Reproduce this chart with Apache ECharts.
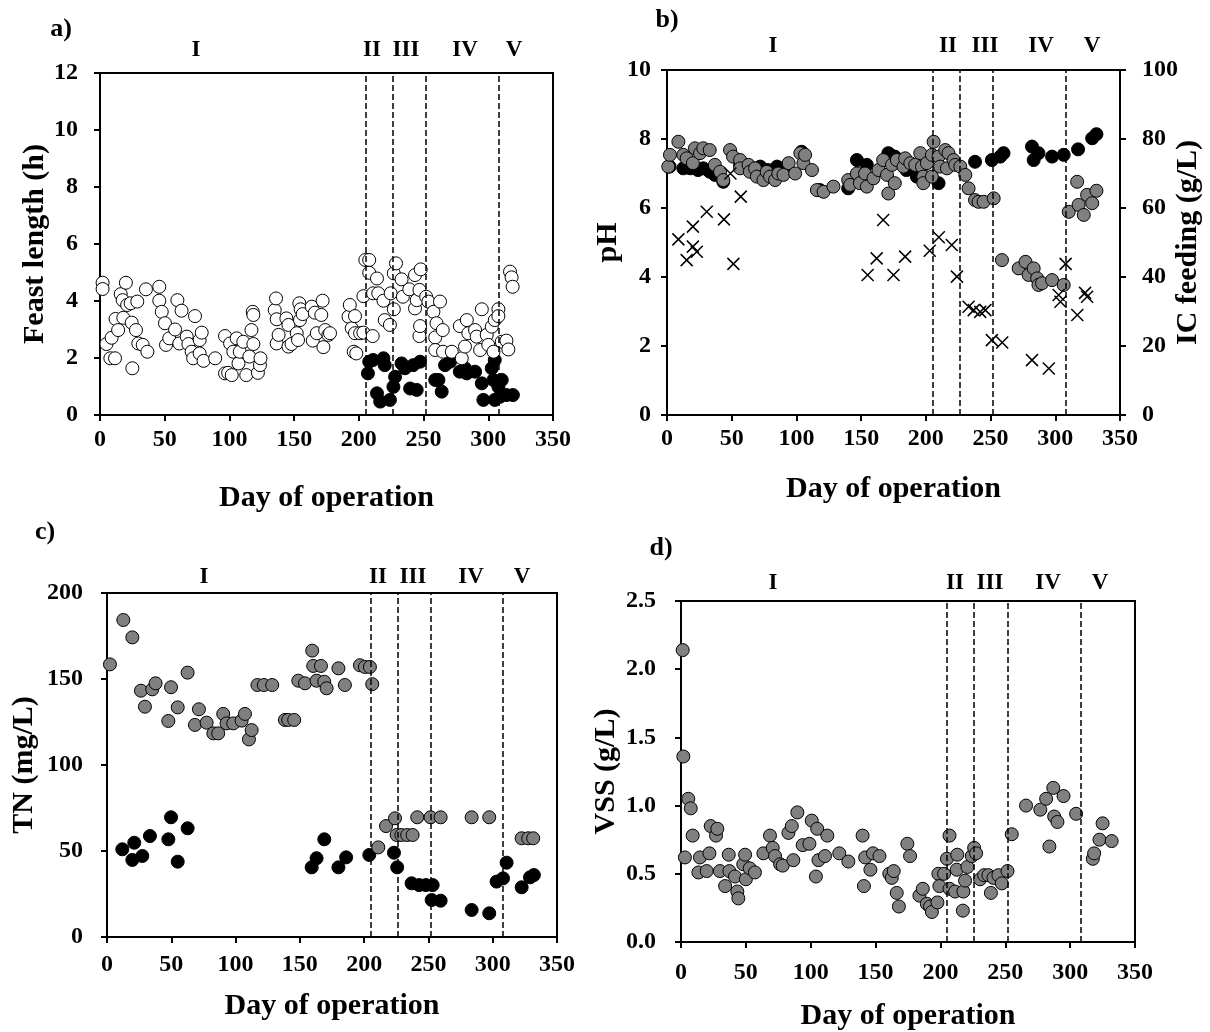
<!DOCTYPE html>
<html>
<head>
<meta charset="utf-8">
<script src="https://cdn.jsdelivr.net/npm/echarts@6/dist/echarts.min.js"></script>
<style>
  html, body { margin: 0; padding: 0; background: #fff; }
  #chart { width: 1210px; height: 1032px; }
</style>
</head>
<body>
<div id="chart"></div>
<script>
// phase boundaries (day of operation)
const phaseDays = [205, 226, 252, 308];
const phaseNames = ["I", "II", "III", "IV", "V"];

// a) feast length, open circles
const aFeastDay = [2, 2, 5, 8, 9, 11.6, 12, 14, 16, 17.5, 18, 20, 21, 23.7, 24.5, 25, 27.8, 28.8, 29.6, 33, 35.5, 36.6,
  45.8, 45.8, 47.7, 50.2, 51, 53.5, 58, 59.8, 61.3, 63, 67, 68.3, 70.8, 72, 73.4, 77, 77, 78.6, 80, 89,
  96.6, 96.6, 99, 100.5, 101.8, 103, 105.6, 107, 108, 110.7, 113, 115.4, 117, 118, 118.5, 118.5, 122, 123.6, 124,
  135, 136, 136.5, 136.5, 138, 144, 145.6, 145.6, 148, 152, 153, 154, 154.5, 155, 156.6, 163.6, 164.4, 166, 167.5,
  171, 172, 172.6, 174, 176.5, 177.7, 192, 193, 194.5, 196, 197, 197, 198, 201, 203.5, 203.5, 205, 208, 208,
  210.7, 211, 214, 215, 219, 220, 224, 224.6, 227, 227, 228.7, 233, 234, 239, 243.4, 243.4, 244.7, 246.8, 246.8,
  247.3, 247.8, 252, 253.7, 257.6, 259, 259, 260, 262.7, 264.8, 265, 271.8, 278, 279.5, 282, 283.4, 284.6,
  289.8, 291, 293.7, 295, 298.8, 300, 302.7, 304, 305, 307.8, 307.8, 310.4, 314, 315.5, 316.8, 318, 318.8];
const aFeastHours = [4.64, 4.42, 2.49, 1.99, 2.71, 1.99, 3.37, 2.98, 4.24, 4.03, 3.41, 4.64, 3.86, 3.92, 3.24, 1.64, 2.98, 3.98, 2.51, 2.46, 4.41, 2.22,
  4.5, 4.01, 3.62, 3.22, 2.46, 2.69, 3.0, 4.03, 2.51, 3.66, 2.75, 2.49, 2.22, 1.99, 3.47, 2.63, 2.16, 2.89, 1.9, 1.99,
  2.77, 1.46, 1.48, 2.51, 1.4, 2.22, 2.69, 1.81, 2.22, 2.57, 1.4, 2.05, 2.98, 3.62, 3.51, 2.49, 1.48, 1.75, 1.99,
  3.68, 4.09, 3.36, 2.51, 2.81, 3.39, 3.16, 2.4, 2.49, 2.87, 2.63, 3.92, 3.33, 3.71, 3.54, 3.8, 2.61, 3.59, 2.87,
  3.51, 4.01, 2.38, 2.98, 2.81, 2.87, 3.45, 3.86, 3.04, 2.22, 3.47, 2.87, 2.16, 2.87, 2.89, 4.17, 5.44, 5.44, 4.99,
  2.77, 4.27, 4.79, 4.27, 4.01, 3.33, 3.16, 4.27, 3.71, 4.97, 5.32, 4.76, 4.15, 4.41, 3.74, 4.91, 4.03, 4.39, 2.77,
  3.12, 5.11, 4.15, 3.98, 3.62, 2.72, 2.28, 3.22, 3.98, 2.98, 2.22, 2.22, 3.12, 1.99, 2.4, 3.33, 2.87,
  2.98, 2.75, 2.28, 3.71, 2.81, 2.46, 3.1, 2.22, 3.33, 3.71, 3.47, 2.57, 2.61, 2.3, 5.03, 4.83, 4.5];

// a) black circles
const aBlackDay = [207, 208, 211, 214, 216.5, 219, 220, 224, 226.7, 228, 233, 235.7, 239.6, 242, 244.7, 247.3,
  259, 261.5, 264, 266.6, 270.5, 278, 282, 283.4, 289.8, 295, 296.2, 302.7, 304, 305, 305, 307.8, 309, 310.4, 314, 319];
const aBlackHours = [1.46, 1.87, 1.93, 0.76, 0.47, 1.99, 1.75, 0.53, 0.99, 1.34, 1.81, 1.64, 0.93, 1.75, 0.88, 1.87,
  1.23, 1.23, 0.82, 1.75, 1.87, 1.52, 1.64, 1.46, 1.52, 1.11, 0.53, 1.64, 1.23, 1.93, 0.53, 0.99, 0.64, 1.23, 0.7, 0.7];

// b) pH, black circles
const bBlackDay = [2, 12.6, 18, 24, 28, 33, 37, 43.5, 56.5, 65, 72, 78, 85, 92, 104, 118, 140, 146.7, 154.4, 171, 172.5,
  176, 185, 193, 209.8, 238, 251, 257.5, 260, 282, 283.3, 287, 297.5, 306.5, 317.6, 328.5, 331.8];
const bBlackPH = [7.2, 7.15, 7.15, 7.1, 7.15, 7.05, 6.96, 6.76, 7.25, 7.15, 7.2, 7.1, 7.2, 7.2, 7.63, 6.52, 6.57, 7.39, 7.25, 7.59, 7.54,
  7.49, 7.1, 6.91, 6.72, 7.34, 7.39, 7.49, 7.59, 7.78, 7.39, 7.59, 7.49, 7.54, 7.7, 8.02, 8.14];

// b) pH, grey circles
const bGreyDay = [1, 2.3, 8.8, 12.6, 15.2, 20, 21.6, 25.5, 28, 33, 37, 41, 43.5, 48.7, 51, 56.5, 56.5, 63, 64, 68, 69.4,
  74.5, 77, 79.6, 83.5, 86, 90, 94, 99, 103, 105.4, 106.7, 112, 115.8, 121, 128.6, 140, 141.5, 146.7, 149, 153, 154.4,
  159.5, 163.4, 167, 170, 171, 173.8, 176, 177.6, 182.7, 184, 188, 191.8, 195.7, 197, 198, 198, 200.8, 204.7, 204.7,
  206, 209.8, 211, 215, 216.3, 217.5, 221.4, 222.7, 226.6, 230.5, 233, 238, 240.7, 244.6, 252.4, 258.8, 271.7, 277,
  279.4, 283.3, 286, 287, 289.8, 297.5, 306.5, 310.4, 316.9, 318, 322, 324.6, 328.5, 331.8];
const bGreyPH = [7.2, 7.54, 7.92, 7.54, 7.44, 7.3, 7.73, 7.59, 7.73, 7.68, 7.25, 7.05, 6.81, 7.68, 7.49, 7.39, 7.15, 7.25, 7.05, 7.15, 6.91,
  6.81, 7.05, 6.91, 6.81, 7.0, 6.96, 7.3, 7.0, 7.59, 7.3, 7.54, 7.1, 6.52, 6.47, 6.62, 6.81, 6.67, 7.0, 6.72, 7.0, 6.62,
  6.86, 7.1, 7.39, 6.96, 6.42, 7.25, 6.72, 7.39, 7.2, 7.44, 7.3, 7.25, 7.59, 7.2, 6.91, 6.72, 7.3, 7.54, 6.91,
  7.92, 7.49, 7.2, 7.68, 7.15, 7.59, 7.39, 7.25, 7.2, 6.96, 6.57, 6.23, 6.18, 6.18, 6.28, 4.49, 4.25, 4.44,
  4.06, 4.25, 3.96, 3.77, 3.82, 3.91, 3.77, 5.89, 6.76, 6.09, 5.8, 6.38, 6.14, 6.5];

// b) IC feeding, crosses
const bICDay = [8.8, 15.2, 20, 20, 23, 30.7, 44, 49, 51.3, 57, 155, 162, 167, 175, 184, 203, 210, 220, 224,
  233, 237, 242, 246, 251, 259, 282, 295, 302.6, 304, 308, 317, 323, 324.6];
const bICFeed = [50.9, 44.9, 54.6, 48.8, 47.3, 58.9, 56.7, 70, 43.8, 63.3, 40.6, 45.4, 56.5, 40.6, 45.9, 47.6, 51.5, 49.3, 40.1,
  31.4, 30.4, 29.9, 30.4, 21.7, 21, 15.9, 13.5, 34.8, 32.8, 43.8, 29, 35.4, 34.3];

// c) TN, grey circles
const cGreyDay = [2.3, 12.7, 19.7, 26.4, 29.5, 35.2, 37.8, 47.7, 49.8, 55, 62.7, 68.4, 71.5, 77.5, 82.7, 86.5, 90.4, 93,
  98.2, 104.7, 107.3, 110.4, 112.5, 117, 122, 128.5, 138.4, 141, 145.6, 148.8, 154, 159.6, 160.4, 163, 166.4, 169,
  170.8, 180, 185, 196.7, 200.6, 204.5, 206.3, 211, 217, 224, 225.3, 229, 233.5, 237.7, 241.3, 251.7, 259.5,
  283.6, 297.3, 322.5, 327.6, 331.5];
const cGreyTN = [158.5, 184.3, 174.2, 143.2, 133.9, 144, 147.5, 125.6, 145.2, 133.5, 153.7, 123.3, 132.4, 124.6, 118.4, 118.4, 129.7, 124.2,
  124.2, 125.8, 129.7, 114.9, 120.3, 146.5, 146.5, 146.5, 126.2, 126.2, 126.2, 149, 147.5, 166.5, 157.6, 149, 157.6, 148.4,
  144.6, 156.2, 146.5, 158, 157, 157, 147, 52.1, 64.5, 69, 59.3, 59.3, 59.3, 59.3, 69.6, 69.6, 69.6,
  69.6, 69.6, 57.4, 57.4, 57.4];

// c) TN, black circles
const cBlackDay = [11.9, 19.7, 21.2, 27.5, 33.4, 47.7, 49.8, 55, 62.7, 159.2, 163, 169, 180, 186, 204, 223.2, 225.7,
  236.9, 242.8, 248, 253.3, 252.5, 259.5, 283.6, 297.3, 303, 308, 310.8, 322.5, 329, 332];
const cBlackTN = [51, 44.8, 54.8, 47.1, 58.7, 56.8, 69.6, 43.8, 63.2, 40.5, 45.8, 56.8, 40.5, 46.3, 47.7, 49, 40.5,
  31.2, 30.2, 30.2, 30.2, 21.5, 21.1, 15.7, 13.8, 32.2, 34.1, 43.2, 28.9, 34.7, 36];

// d) VSS, grey circles
const dDay = [1.3, 1.8, 3, 5.6, 7.5, 9, 13.4, 14.6, 19.8, 21.9, 22.9, 27, 28, 30, 34, 36.8, 37.3, 41.6, 43.4, 44.2, 48,
  49.4, 50, 53, 57, 63.5, 68.6, 70.7, 72.5, 76.4, 78.4, 82.8, 85.4, 86.6, 89.7, 93.8, 99, 100.8, 104, 105, 106, 111,
  112.8, 122, 129, 140, 141, 142, 146, 148, 153, 160.6, 162.5, 164, 166.3, 168, 174.5, 176.6, 183.8, 186.4, 189.5,
  192, 193.4, 197.7, 198.4, 199.2, 202.8, 205, 207, 207, 211.3, 212.6, 213, 217.3, 217.7, 219, 220.8, 224.2, 226,
  227.5, 230.6, 233.7, 237, 238.9, 240.9, 244.7, 247.3, 251.7, 255, 266, 277, 281.5, 284, 287, 287.7, 290.2, 294.9,
  304.6, 317.5, 318.5, 322.6, 325, 332];
const dVSS = [2.14, 1.36, 0.62, 1.05, 0.98, 0.78, 0.51, 0.62, 0.52, 0.65, 0.85, 0.78, 0.83, 0.52, 0.41, 0.64, 0.52, 0.48, 0.37, 0.32, 0.57,
  0.64, 0.46, 0.54, 0.51, 0.65, 0.78, 0.69, 0.63, 0.57, 0.56, 0.8, 0.85, 0.6, 0.95, 0.71, 0.72, 0.89, 0.48, 0.83, 0.6, 0.63,
  0.78, 0.65, 0.59, 0.78, 0.41, 0.62, 0.53, 0.65, 0.63, 0.5, 0.47, 0.52, 0.36, 0.26, 0.72, 0.63, 0.34, 0.39, 0.28,
  0.26, 0.22, 0.29, 0.5, 0.41, 0.5, 0.61, 0.78, 0.39, 0.37, 0.53, 0.64, 0.23, 0.37, 0.45, 0.55, 0.63, 0.69,
  0.65, 0.46, 0.49, 0.49, 0.36, 0.47, 0.49, 0.43, 0.52, 0.79, 1.0, 0.97, 1.05, 0.7, 1.13, 0.92, 0.88, 1.07,
  0.94, 0.61, 0.65, 0.75, 0.87, 0.74];

const FONT = '"Liberation Serif", "Times New Roman", serif';
const pairs = (xs, ys) => xs.map((x, i) => [x, ys[i]]);

const chart = echarts.init(document.getElementById("chart"));

const gridBase = { show: true, borderColor: "#000", borderWidth: 2, backgroundColor: "transparent", containLabel: false, outerBoundsMode: "none" };
const tickFont = { fontFamily: FONT, fontWeight: "bold", fontSize: 24, color: "#000" };
const nameFont = { fontFamily: FONT, fontWeight: "bold", fontSize: 30, color: "#000" };

function xAxisFor(gi, margin, nameGap) {
  return {
    type: "value", gridIndex: gi, min: 0, max: 350, interval: 50,
    name: "Day of operation", nameLocation: "middle", nameGap: nameGap,
    nameTextStyle: nameFont,
    axisLine: { show: true, onZero: false, lineStyle: { color: "#000", width: 2 } },
    axisTick: { show: true, length: 6, lineStyle: { color: "#000", width: 2 } },
    axisLabel: Object.assign({ margin: margin, showMaxLabel: true, showMinLabel: true }, tickFont),
    splitLine: { show: false },
  };
}

function yAxisFor(gi, name, min, max, interval, margin, nameGap, extra) {
  return Object.assign({
    type: "value", gridIndex: gi, min: min, max: max, interval: interval,
    name: name, nameLocation: "middle", nameGap: nameGap, nameRotate: 90,
    nameTextStyle: nameFont,
    axisLine: { show: true, onZero: false, lineStyle: { color: "#000", width: 2 } },
    axisTick: { show: true, length: 6, lineStyle: { color: "#000", width: 2 } },
    axisLabel: Object.assign({ margin: margin, showMaxLabel: true, showMinLabel: true }, tickFont),
    splitLine: { show: false },
  }, extra || {});
}

const phaseLines = {
  silent: true, symbol: ["none", "none"], animation: false,
  label: { show: false },
  lineStyle: { type: "dashed", color: "#000", width: 1.5, opacity: 1 },
  data: phaseDays.map((d) => ({ xAxis: d })),
};

const openStyle = { color: "#fff", borderColor: "#000", borderWidth: 1, opacity: 1 };
const blackStyle = { color: "#000", borderColor: "#000", borderWidth: 1, opacity: 1 };
const greyStyle = { color: "#808080", borderColor: "#000", borderWidth: 1, opacity: 1 };
const SZ = 13;

// text labels: panel letters and phase names (pixel layout)
const panelLetters = [
  { t: "a)", x: 61, y: 29 }, { t: "b)", x: 667, y: 20 },
  { t: "c)", x: 45, y: 532 }, { t: "d)", x: 661, y: 548 },
];
const phaseLabelX = [
  [196, 372, 406, 465, 514],
  [773, 948, 985, 1041, 1092],
  [204, 378, 413, 471, 522],
  [773, 955, 990, 1048, 1100],
];
const phaseLabelY = [50, 46, 577, 583];

const graphics = [];
panelLetters.forEach((p) => graphics.push({
  type: "text", x: p.x, y: p.y,
  style: { text: p.t, fontFamily: FONT, fontWeight: "bold", fontSize: 26, fill: "#000", align: "center", verticalAlign: "middle" },
}));
phaseLabelX.forEach((xs, pi) => xs.forEach((x, k) => graphics.push({
  type: "text", x: x, y: phaseLabelY[pi],
  style: { text: phaseNames[k], fontFamily: FONT, fontWeight: "bold", fontSize: 23, fill: "#000", align: "center", verticalAlign: "middle" },
})));

const option = {
  animation: false,
  backgroundColor: "#fff",
  textStyle: { fontFamily: FONT },
  grid: [
    Object.assign({ left: 100, top: 73, width: 453, height: 342 }, gridBase),
    Object.assign({ left: 667, top: 70, width: 453, height: 345 }, gridBase),
    Object.assign({ left: 107, top: 593, width: 450, height: 344 }, gridBase),
    Object.assign({ left: 681, top: 601, width: 454, height: 341 }, gridBase),
  ],
  xAxis: [
    xAxisFor(0, 13, 68),
    xAxisFor(1, 12, 59),
    xAxisFor(2, 16, 54),
    xAxisFor(3, 19, 59),
  ],
  yAxis: [
    yAxisFor(0, "Feast length (h)", 0, 12, 2, 22, 47),
    yAxisFor(1, "pH", 0, 10, 2, 16, 35),
    yAxisFor(1, "IC feeding (g/L)", 0, 100, 20, 22, 53, { position: "right", nameMoveOverlap: false }),
    yAxisFor(2, "TN (mg/L)", 0, 200, 50, 24, 68),
    yAxisFor(3, "VSS (g/L)", 0, 2.5, 0.5, 25, 60, { axisLabel: Object.assign({ margin: 25, formatter: (v) => v.toFixed(1) }, tickFont) }),
  ],
  series: [
    { type: "scatter", name: "a black", xAxisIndex: 0, yAxisIndex: 0, symbolSize: SZ, itemStyle: blackStyle, data: pairs(aBlackDay, aBlackHours), markLine: phaseLines },
    { type: "scatter", name: "a feast", xAxisIndex: 0, yAxisIndex: 0, symbolSize: SZ, itemStyle: openStyle, data: pairs(aFeastDay, aFeastHours) },
    { type: "scatter", name: "b black", xAxisIndex: 1, yAxisIndex: 1, symbolSize: SZ, itemStyle: blackStyle, data: pairs(bBlackDay, bBlackPH), markLine: phaseLines },
    { type: "scatter", name: "b grey", xAxisIndex: 1, yAxisIndex: 1, symbolSize: SZ, itemStyle: greyStyle, data: pairs(bGreyDay, bGreyPH) },
    { type: "scatter", name: "b IC", xAxisIndex: 1, yAxisIndex: 2, symbol: "path://M0 0L10 10M10 0L0 10", symbolSize: 12,
      itemStyle: { color: "transparent", borderColor: "#000", borderWidth: 1.5, opacity: 1 }, data: pairs(bICDay, bICFeed) },
    { type: "scatter", name: "c black", xAxisIndex: 2, yAxisIndex: 3, symbolSize: SZ, itemStyle: blackStyle, data: pairs(cBlackDay, cBlackTN), markLine: phaseLines },
    { type: "scatter", name: "c grey", xAxisIndex: 2, yAxisIndex: 3, symbolSize: SZ, itemStyle: greyStyle, data: pairs(cGreyDay, cGreyTN) },
    { type: "scatter", name: "d VSS", xAxisIndex: 3, yAxisIndex: 4, symbolSize: SZ, itemStyle: greyStyle, data: pairs(dDay, dVSS), markLine: phaseLines },
  ],
  graphic: graphics,
};

chart.setOption(option);
window.addEventListener("resize", () => chart.resize());
</script>
</body>
</html>
